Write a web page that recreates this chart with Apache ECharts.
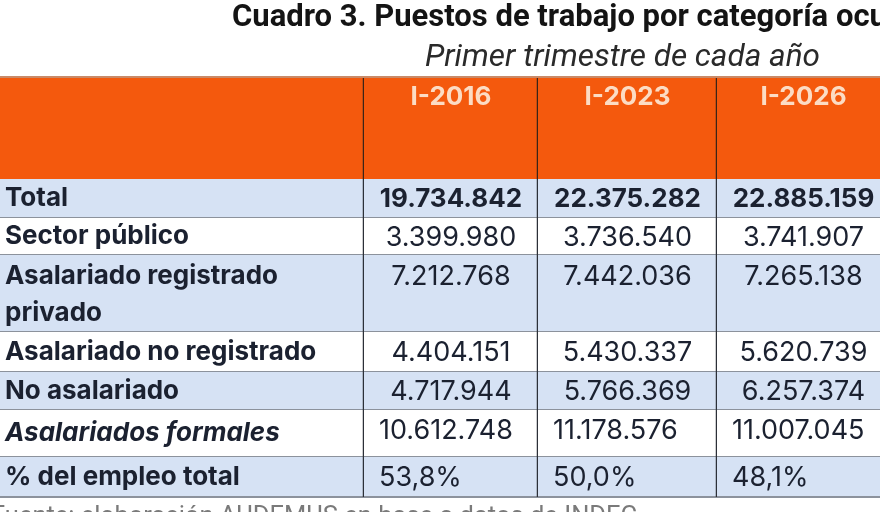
<!DOCTYPE html>
<html>
<head>
<meta charset="utf-8">
<script src="https://cdn.jsdelivr.net/npm/echarts@6/dist/echarts.min.js"></script>
<style>
  html, body { margin: 0; padding: 0; background: #fff; }
  #main { width: 880px; height: 512px; }
</style>
</head>
<body>
<div id="main"></div>
<script>
// datos del cuadro
var periodos = ['I-2016', 'I-2023', 'I-2026'];
var categorias = [
  'Total',
  'Sector público',
  'Asalariado registrado privado',
  'Asalariado no registrado',
  'No asalariado',
  'Asalariados formales',
  '% del empleo total'
];
var puestos2016 = [19734842, 3399980, 7212768, 4404151, 4717944, 10612748];
var puestos2023 = [22375282, 3736540, 7442036, 5430337, 5766369, 11178576];
var puestos2026 = [22885159, 3741907, 7265138, 5620739, 6257374, 11007045];
var pctEmpleo = [53.8, 50.0, 48.1];

// layout (en px del lienzo, mapeado por los ejes)
var colEdges = [0, 364, 538, 717, 890];
var rowEdges = [77, 179, 218, 255, 332, 372, 410, 457, 497];

var FONT = 'Inter';
var naranja = '#f4590d';
var azul = '#d6e2f4';
var tinta = '#1b2130';

function miles(n) {
  return String(n).replace(/\B(?=(\d{3})+(?!\d))/g, '.');
}
function pct(v) {
  return v.toFixed(1).replace('.', ',') + '%';
}

var columnas = [puestos2016, puestos2023, puestos2026];

// celdas: [col, fila, texto]
var celdas = [];
celdas.push([0, 0, '']);
periodos.forEach(function (p, i) { celdas.push([i + 1, 0, p]); });
categorias.forEach(function (cat, r) {
  celdas.push([0, r + 1, cat]);
  for (var c = 0; c < 3; c++) {
    var txt = r < 6 ? miles(columnas[c][r]) : pct(pctEmpleo[c]);
    celdas.push([c + 1, r + 1, txt]);
  }
});

function renderCelda(params, api) {
  var col = api.value(0), fila = api.value(1);
  var txt = celdas[params.dataIndex][2];
  var p0 = api.coord([colEdges[col], rowEdges[fila]]);
  var p1 = api.coord([colEdges[col + 1], rowEdges[fila + 1]]);
  var w = p1[0] - p0[0], h = p1[1] - p0[1];
  var fill = fila === 0 ? naranja : (fila % 2 === 1 ? azul : '#ffffff');
  var hijos = [{
    type: 'rect',
    shape: { x: p0[0], y: p0[1], width: w, height: h },
    style: { fill: fill }
  }];
  var st;
  if (fila === 0) {
    st = {
      text: txt, x: p0[0] + w / 2, y: p0[1] + 20, align: 'center', verticalAlign: 'middle',
      fill: '#fcdcc4', font: 'bold 26px ' + FONT
    };
  } else if (col === 0) {
    st = {
      text: txt, x: 5, y: p0[1] + h / 2, align: 'left', verticalAlign: 'middle',
      fill: tinta, fontFamily: FONT, fontSize: 26, fontWeight: 'bold',
      fontStyle: fila === 6 ? 'italic' : 'normal', lineHeight: 37
    };
    if (fila === 3) {
      st.width = 320;
      st.overflow = 'break';
      st.y = p0[1] + 3;
      st.verticalAlign = 'top';
    }
  } else {
    var izq = fila >= 6;
    st = {
      text: txt, x: izq ? p0[0] + 15 : p0[0] + w / 2,
      y: fila === 3 ? p0[1] + 22 : p0[1] + h / 2 - (fila === 6 ? 4 : 0) + 1,
      align: izq ? 'left' : 'center', verticalAlign: 'middle',
      fill: tinta, fontFamily: FONT, fontSize: fila === 1 ? 26 : 27,
      fontWeight: fila === 1 ? 'bold' : 'normal'
    };
  }
  hijos.push({ type: 'text', style: st });
  // bordes
  if (fila > 0) {
    hijos.push({
      type: 'line',
      shape: { x1: p0[0], y1: p1[1], x2: p1[0], y2: p1[1] },
      style: { stroke: '#8c929c', lineWidth: 2 }
    });
  }
  hijos.push({
    type: 'line',
    shape: { x1: p1[0], y1: p0[1], x2: p1[0], y2: p1[1] },
    style: { stroke: fila === 0 ? '#3a2418' : '#2c3038', lineWidth: 2.5 }
  });
  return { type: 'group', children: hijos };
}

var chart = echarts.init(document.getElementById('main'));
chart.setOption({
  backgroundColor: '#ffffff',
  animation: false,
  title: [
    {
      text: 'Cuadro 3. Puestos de trabajo por categoría ocupacional',
      left: 227, top: -2,
      textStyle: { fontFamily: 'Roboto', fontWeight: 'bold', fontSize: 31, color: '#141414' }
    },
    {
      text: 'Primer trimestre de cada año',
      left: 420, top: 37,
      textStyle: { fontFamily: 'Roboto', fontStyle: 'italic', fontWeight: 'normal', fontSize: 31.5, color: '#2a2a2a' }
    },
    {
      text: 'Fuente: elaboración AUDEMUS en base a datos de INDEC',
      left: -14, top: 500,
      textStyle: { fontFamily: 'Roboto', fontWeight: 'normal', fontSize: 25.5, color: '#7a7a7a' }
    }
  ],
  grid: { left: 0, right: 0, top: 0, bottom: 0 },
  xAxis: { type: 'value', min: 0, max: 880, show: false },
  yAxis: { type: 'value', min: 0, max: 512, inverse: true, show: false },
  series: [{
    type: 'custom',
    renderItem: renderCelda,
    clip: false,
    data: celdas.map(function (c) { return [c[0], c[1]]; }),
    z: 1
  }, {
    // linea superior del encabezado
    type: 'custom',
    renderItem: function (params, api) {
      var a = api.coord([colEdges[0], rowEdges[0]]);
      var b = api.coord([colEdges[4], rowEdges[0]]);
      return { type: 'line', shape: { x1: a[0], y1: a[1], x2: b[0], y2: b[1] }, style: { stroke: '#c98a68', lineWidth: 2 } };
    },
    data: [[0, 0]],
    z: 2
  }]
});
</script>
</body>
</html>
